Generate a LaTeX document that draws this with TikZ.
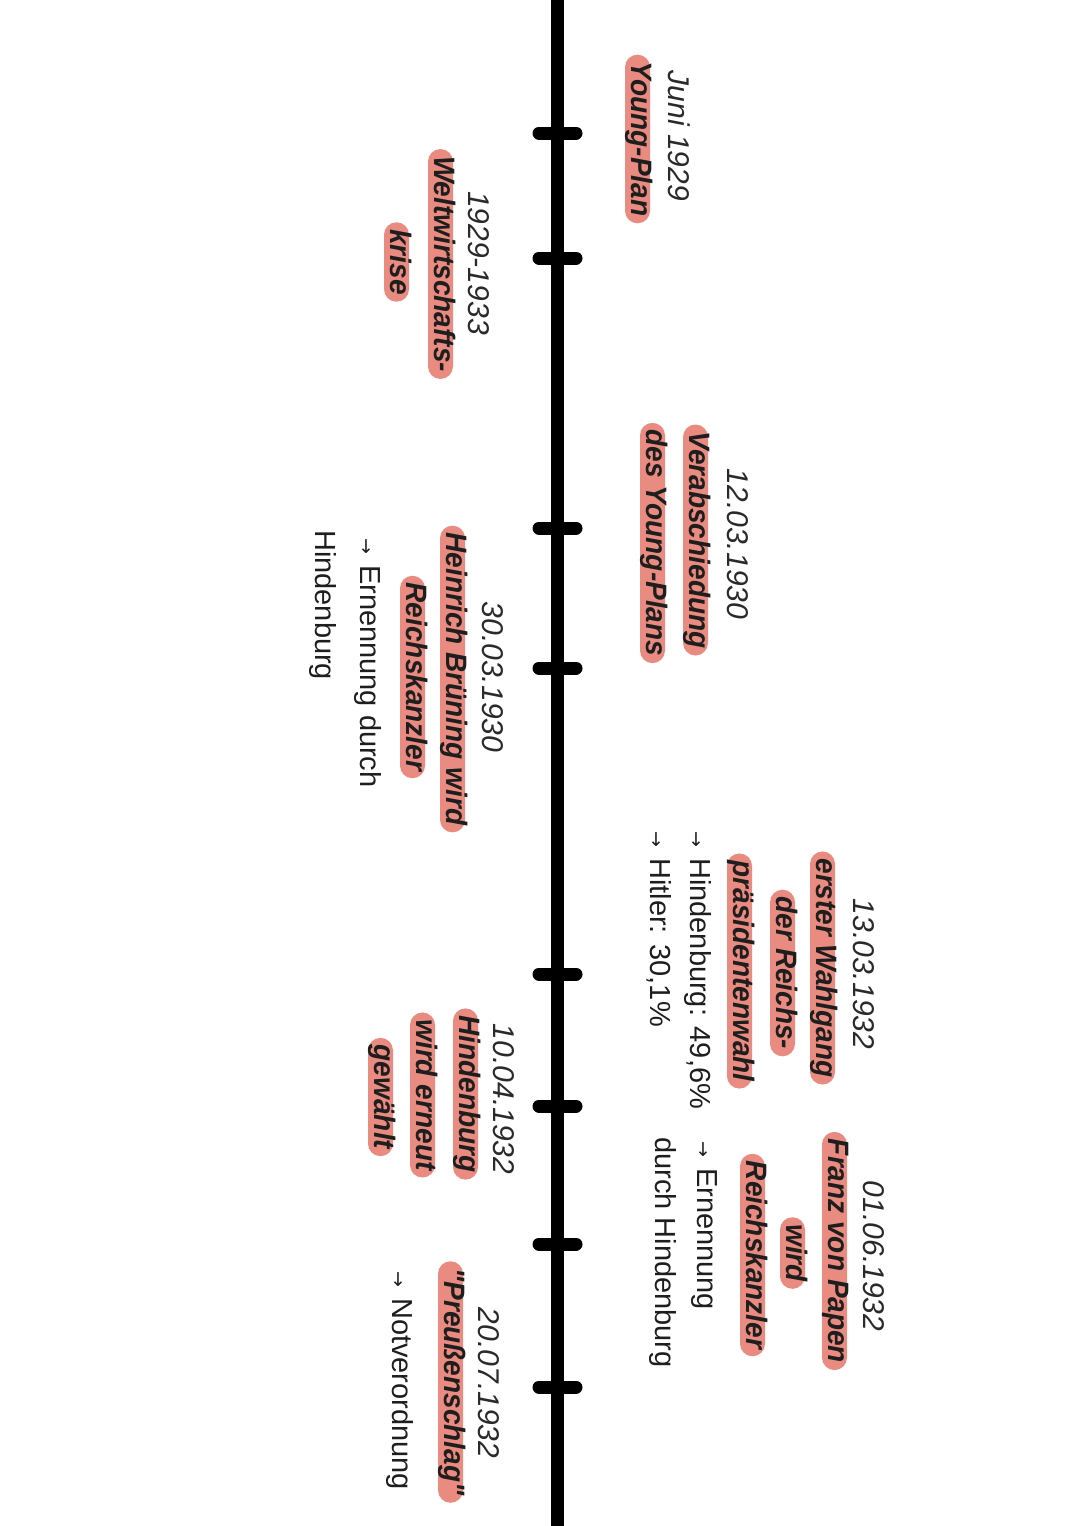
\documentclass[tikz,border=0pt]{standalone}
\usepackage{fontspec}
\setmainfont{Liberation Sans}
\newfontfamily\hlfam{Liberation Sans}[FakeStretch=0.95]
\newfontfamily\symfam{DejaVu Sans}
\definecolor{pill}{HTML}{E98B80}
\definecolor{ink}{HTML}{1E1E1E}
\definecolor{datecol}{HTML}{2A2A2A}
\newcommand\arr{{\symfam\fontsize{19}{19}\selectfont →}\hspace{11pt}}
\tikzset{
  datelbl/.style={rotate=-90, anchor=base, inner sep=0pt, text=datecol,
    font=\fontsize{30}{36}\selectfont\itshape},
  hl/.style={rotate=-90, anchor=base, fill=pill, rounded corners=12.5pt,
    inner xsep=7pt, inner ysep=0pt, text height=19pt, text depth=6pt, text=ink,
    font=\hlfam\fontsize{29.5}{36}\selectfont\bfseries\itshape},
  note/.style={rotate=-90, anchor=base west, inner sep=0pt, text=ink,
    font=\fontsize{29}{36}\selectfont},
  axis/.style={line width=13pt, black},
  tickmark/.style={line width=13pt, black, line cap=round},
}
\begin{document}
\begin{tikzpicture}[x=1pt,y=-1pt]
\useasboundingbox[fill=white] (0,0) rectangle (1080,1526);
% axis
\coordinate (top) at (557.5,0);
\coordinate (bot) at (557.5,1526);
\draw[axis] (top) -- (bot);
\foreach \t [count=\i] in {133,258,528,668,974,1106,1244,1387}{
  \coordinate (t\i) at (557.5,\t);
  \draw[tickmark] ([xshift=-18.5pt]t\i) -- ([xshift=18.5pt]t\i);
}
% Juni 1929
\node[datelbl] (d1) at (668,136) {Juni 1929};
\node[hl] (h1a) at (631,139) {Young-Plan};
% 1929-1933
\node[datelbl] (d2) at (468,263) {1929-1933};
\node[hl] (h2a) at (434,264) {Weltwirtschafts-};
\node[hl] (h2b) at (390,262) {krise};
% 12.03.1930
\node[datelbl] (d3) at (727,544) {12.03.1930};
\node[hl] (h3a) at (689,540) {Verabschiedung};
\node[hl] (h3b) at (646,543) {des Young-Plans};
% 30.03.1930
\node[datelbl] (d4) at (482,677) {30.03.1930};
\node[hl] (h4a) at (446,679) {Heinrich Brüning wird};
\node[hl] (h4b) at (406,677) {Reichskanzler};
\node[note] (n4a) at (360,538) {\arr Ernennung durch};
\node[note] (n4b) at (315,530) {Hindenburg};
% 13.03.1932
\node[datelbl] (d5) at (853,974) {13.03.1932};
\node[hl] (h5a) at (816,968) {erster Wahlgang};
\node[hl] (h5b) at (776,973) {der Reichs-};
\node[hl] (h5c) at (733,971) {präsidentenwahl};
\node[note] (n5a) at (690,831) {\arr Hindenburg: 49,6\%};
\node[note] (n5b) at (650,831) {\arr Hitler: 30,1\%};
% 10.04.1932
\node[datelbl] (d6) at (493,1099) {10.04.1932};
\node[hl] (h6a) at (459,1094) {Hindenburg};
\node[hl] (h6b) at (416,1095) {wird erneut};
\node[hl] (h6c) at (374,1097) {gewählt};
% 01.06.1932
\node[datelbl] (d7) at (863,1256) {01.06.1932};
\node[hl] (h7a) at (828,1251) {Franz von Papen};
\node[hl] (h7b) at (786,1253) {wird};
\node[hl] (h7c) at (746,1255) {Reichskanzler};
\node[note] (n7a) at (697,1141) {\arr Ernennung};
\node[note] (n7b) at (655,1137) {durch Hindenburg};
% 20.07.1932
\node[datelbl] (d8) at (478,1383) {20.07.1932};
\node[hl] (h8a) at (444,1382) {"Preußenschlag"};
\node[note] (n8a) at (392,1271) {\arr Notverordnung};
\end{tikzpicture}
\end{document}
